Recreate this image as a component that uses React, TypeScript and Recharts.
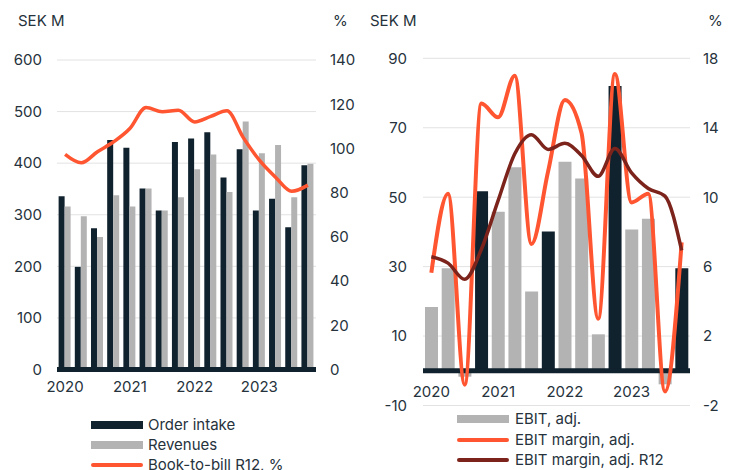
import React from 'react';
import { ComposedChart, Bar, Line, XAxis, YAxis, CartesianGrid, ReferenceLine, Cell } from 'recharts';

// quarters 2020 Q1 .. 2023 Q4
const quarters = [
  '2020 Q1', '2020 Q2', '2020 Q3', '2020 Q4',
  '2021 Q1', '2021 Q2', '2021 Q3', '2021 Q4',
  '2022 Q1', '2022 Q2', '2022 Q3', '2022 Q4',
  '2023 Q1', '2023 Q2', '2023 Q3', '2023 Q4',
];

// left panel, SEK M and %
const orderIntake = [336, 199, 274, 445, 430, 351, 308, 441, 448, 460, 372, 427, 308, 331, 276, 396];
const revenues = [316, 297, 257, 338, 316, 351, 308, 334, 388, 417, 344, 481, 419, 435, 334, 399];
const bookToBill = [97.3, 93.5, 98.5, 103, 109, 118.5, 116.6, 117.3, 112, 114.5, 117, 105, 94.7, 87, 80.6, 83.4];

// right panel, SEK M and %
const ebitAdj = [18.4, 29.5, -1.7, 51.7, 45.8, 58.6, 22.8, 40.1, 60.2, 55.4, 10.5, 82, 40.7, 43.8, -3.9, 29.5];
const ebitMargin = [5.65, 10.2, -0.8, 15.4, 14.6, 17.0, 7.3, 11.5, 15.6, 13.7, 3.0, 17.1, 9.7, 10.2, -1.2, 7.4];
const ebitMarginR12 = [6.57, 6.2, 5.27, 7.0, 9.8, 12.5, 13.6, 12.75, 13.1, 12.4, 11.2, 12.8, 11.4, 10.5, 10.06, 6.93];

const leftTicksL = [0, 100, 200, 300, 400, 500, 600];
const leftTicksR = [0, 20, 40, 60, 80, 100, 120, 140];
const rightTicksL = [-10, 10, 30, 50, 70, 90];
const rightTicksR = [-2, 2, 6, 10, 14, 18];

const NAVY = '#10222e';
const GREY = '#b3b3b3';
const ORANGE = '#ff5531';
const DARKRED = '#7c241c';
const GRID = '#e2e2e2';
const TXT = '#26323c';

const leftData = quarters.map((q, i) => ({
  q, order: orderIntake[i], revenue: revenues[i], btb: bookToBill[i],
}));
const rightData = quarters.map((q, i) => ({
  q, ebit: ebitAdj[i], margin: ebitMargin[i], r12: ebitMarginR12[i],
}));

const yearTick = (dy: number) => (props: any) => {
  const { x, y, payload } = props;
  const v: string = payload.value;
  if (!v.endsWith('Q1')) return <g />;
  return (
    <text x={x} y={y + dy} textAnchor="middle" fill={TXT} fontSize={15}>
      {v.slice(0, 4)}
    </text>
  );
};

const tickStyle = { fill: TXT, fontSize: 15 };

const Swatch = ({ left, top, color, kind }: { left: number; top: number; color: string; kind: 'bar' | 'line' }) => (
  <div
    style={{
      position: 'absolute',
      left,
      top: kind === 'bar' ? top - 4 : top - 2,
      width: 52,
      height: kind === 'bar' ? 8 : 4,
      background: color,
      borderRadius: kind === 'line' ? 2 : 0,
    }}
  />
);

const LegendText = ({ left, top, children }: { left: number; top: number; children: React.ReactNode }) => (
  <div style={{ position: 'absolute', left, top: top - 10, height: 20, lineHeight: '20px', fontSize: 15, color: TXT, whiteSpace: 'nowrap' }}>
    {children}
  </div>
);

const Title = ({ left, children }: { left: number; children: React.ReactNode }) => (
  <div style={{ position: 'absolute', left, top: 11, lineHeight: '20px', fontSize: 15, color: TXT }}>{children}</div>
);

export default function App() {
  return (
    <div style={{ position: 'relative', width: 733, height: 470, overflow: 'hidden', background: '#fff', fontFamily: 'Inter, "Noto Sans", sans-serif' }}>
      <style>{'body{margin:0}'}</style>

      <Title left={18}>SEK M</Title>
      <Title left={333}>%</Title>
      <Title left={370}>SEK M</Title>
      <Title left={708}>%</Title>

      <div style={{ position: 'absolute', left: 0, top: 0 }}>
        <ComposedChart width={366} height={470} data={leftData} margin={{ top: 60, right: 0, bottom: 70.5, left: 0 }} barCategoryGap="10%" barGap={0}>
          <CartesianGrid vertical={false} stroke={GRID} yAxisId="l" />
          <XAxis dataKey="q" interval={0} height={30} tickSize={0} tickMargin={0} axisLine={false} tickLine={false} tick={yearTick(22.6)} />
          <YAxis yAxisId="l" domain={[0, 600]} ticks={leftTicksL} width={57} tickSize={0} tickMargin={15} axisLine={false} tickLine={false} tick={tickStyle} />
          <YAxis yAxisId="r" orientation="right" domain={[0, 140]} ticks={leftTicksR} width={50} tickSize={0} tickMargin={14} axisLine={false} tickLine={false} tick={tickStyle} />
          <Bar yAxisId="l" dataKey="order" name="Order intake" fill={NAVY} isAnimationActive={false} />
          <Bar yAxisId="l" dataKey="revenue" name="Revenues" fill={GREY} isAnimationActive={false} />
          <ReferenceLine yAxisId="l" y={0} stroke={NAVY} strokeWidth={5} />
          <Line yAxisId="r" dataKey="btb" name="Book-to-bill R12, %" type="monotone" stroke={ORANGE} strokeWidth={3.5} dot={false} activeDot={false} isAnimationActive={false} />
        </ComposedChart>
      </div>

      <div style={{ position: 'absolute', left: 366, top: 0 }}>
        <ComposedChart width={367} height={470} data={rightData} margin={{ top: 58.3, right: 0, bottom: 34.5, left: 0 }} barCategoryGap="12%">
          <CartesianGrid vertical={false} stroke={GRID} yAxisId="l" />
          <XAxis dataKey="q" interval={0} height={30} tickSize={0} tickMargin={0} axisLine={false} tickLine={false} tick={yearTick(-8.4)} />
          <YAxis yAxisId="l" domain={[-10, 90]} ticks={rightTicksL} width={57} tickSize={0} tickMargin={16} axisLine={false} tickLine={false} tick={tickStyle} />
          <YAxis yAxisId="r" orientation="right" domain={[-2, 18]} ticks={rightTicksR} width={43} tickSize={0} tickMargin={13} axisLine={false} tickLine={false} tick={tickStyle} />
          <Bar yAxisId="l" dataKey="ebit" name="EBIT, adj." fill={GREY} isAnimationActive={false}>
            {rightData.map((d) => (
              <Cell key={d.q} fill={d.q.endsWith('Q4') ? NAVY : GREY} />
            ))}
          </Bar>
          <ReferenceLine yAxisId="l" y={0} stroke={NAVY} strokeWidth={5} />
          <Line yAxisId="r" dataKey="margin" name="EBIT margin, adj." type="monotone" stroke={ORANGE} strokeWidth={4} dot={false} activeDot={false} isAnimationActive={false} />
          <Line yAxisId="r" dataKey="r12" name="EBIT margin, adj. R12" type="monotone" stroke={DARKRED} strokeWidth={3.5} dot={false} activeDot={false} isAnimationActive={false} />
        </ComposedChart>
      </div>

      {/* legends */}
      <Swatch left={91} top={424.7} color={NAVY} kind="bar" />
      <LegendText left={148} top={424.7}>Order intake</LegendText>
      <Swatch left={91} top={444.7} color={GREY} kind="bar" />
      <LegendText left={148} top={444.7}>Revenues</LegendText>
      <Swatch left={91} top={465} color={ORANGE} kind="line" />
      <LegendText left={148} top={465}>Book-to-bill R12, %</LegendText>

      <Swatch left={457} top={419} color={GREY} kind="bar" />
      <LegendText left={515} top={419}>EBIT, adj.</LegendText>
      <Swatch left={457} top={440} color={ORANGE} kind="line" />
      <LegendText left={515} top={440}>EBIT margin, adj.</LegendText>
      <Swatch left={457} top={460} color={DARKRED} kind="line" />
      <LegendText left={515} top={460}>EBIT margin, adj. R12</LegendText>
    </div>
  );
}
